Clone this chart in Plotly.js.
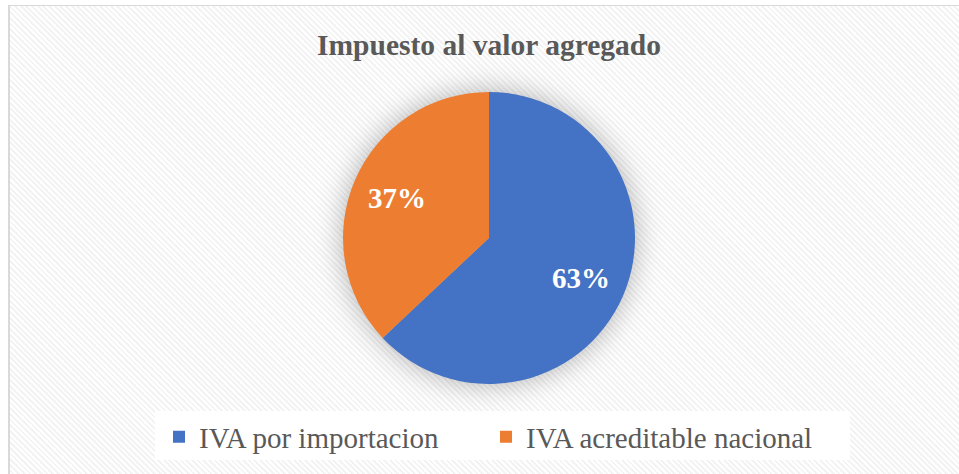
<!DOCTYPE html>
<html>
<head>
<meta charset="utf-8">
<script src="https://cdn.plot.ly/plotly-3.0.1.min.js"></script>
<style>
  html, body { margin: 0; padding: 0; width: 959px; height: 474px; overflow: hidden; background: #ffffff; }
  #bg {
    position: absolute; left: 8px; top: 5px; width: 960px; height: 480px;
    border-left: 2px solid #d9d9d9; border-top: 1px solid #d9d9d9;
    background: repeating-linear-gradient(45deg, #ffffff 0px, #ffffff 2px, #f3f3f3 2px, #f3f3f3 4px);
  }
  #chart { position: absolute; left: 0; top: 0; width: 959px; height: 474px; }
  .pielayer .trace { filter: drop-shadow(0px 0px 14px rgba(0,0,0,0.30)); }
</style>
</head>
<body>
<div id="bg"></div>
<div id="chart"></div>
<script>
const categories = ["IVA por importacion", "IVA acreditable nacional"];
const values = [63, 37];
const colors = ["#4472C4", "#ED7D31"];
const chartTitle = "Impuesto al valor agregado";

const W = 959, H = 474;
const cx = 489, cy = 238, r = 146;
const serif = "Liberation Serif, Times New Roman, serif";

const trace = {
  type: "pie",
  labels: categories,
  values: values,
  sort: false,
  direction: "clockwise",
  rotation: 0,
  marker: { colors: colors, line: { width: 0 } },
  textinfo: "none",
  hoverinfo: "label+percent",
  domain: { x: [(cx - r) / W, (cx + r) / W], y: [(H - cy - r) / H, (H - cy + r) / H] }
};

// Percentage labels placed along each slice's mid-angle, derived from the data
const total = values.reduce((a, b) => a + b, 0);
const annotations = [];
let cum = 0;
values.forEach((v) => {
  const mid = (cum + v / 2) / total * 2 * Math.PI; // clockwise from 12 o'clock
  cum += v;
  const rr = 0.69 * r;
  const px = cx + rr * Math.sin(mid);
  const py = cy - rr * Math.cos(mid);
  annotations.push({
    xref: "paper", yref: "paper",
    x: px / W, y: 1 - py / H,
    xanchor: "center", yanchor: "middle",
    showarrow: false,
    text: "<b>" + Math.round(v / total * 100) + "%</b>",
    font: { family: serif, size: 29, color: "#ffffff" }
  });
});

const layout = {
  width: W, height: H,
  margin: { l: 0, r: 0, t: 0, b: 0 },
  paper_bgcolor: "rgba(0,0,0,0)",
  plot_bgcolor: "rgba(0,0,0,0)",
  title: {
    text: "<b>" + chartTitle + "</b>",
    font: { family: serif, size: 29.5, color: "#595959" },
    x: 489 / W, xanchor: "center",
    y: 1 - 45 / H, yanchor: "middle"
  },
  showlegend: true,
  legend: {
    orientation: "h",
    x: 159 / W, xanchor: "left",
    y: 1 - 437 / H, yanchor: "middle",
    bgcolor: "rgba(0,0,0,0)",
    font: { family: serif, size: 29, color: "#595959" },
    entrywidth: 282, entrywidthmode: "pixels",
    traceorder: "normal"
  },
  annotations: annotations,
  shapes: [{
    type: "rect", xref: "paper", yref: "paper",
    x0: 155 / W, x1: 850 / W, y0: 1 - 460 / H, y1: 1 - 411 / H,
    fillcolor: "#ffffff", line: { width: 0 }, layer: "below"
  }]
};

Plotly.newPlot("chart", [trace], layout, { displayModeBar: false, staticPlot: true });
</script>
</body>
</html>
